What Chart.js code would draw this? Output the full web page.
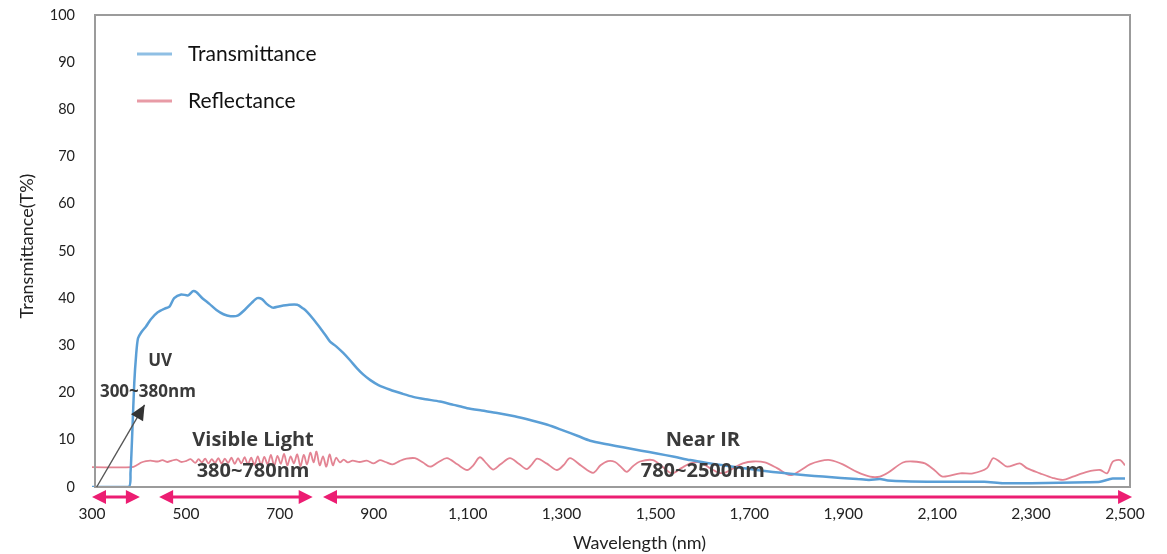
<!DOCTYPE html>
<html lang="en">
<head>
    <meta charset="UTF-8">
    <title>Transmittance / Reflectance</title>
    <script src="https://cdn.jsdelivr.net/npm/chart.js"></script>
    <style>
        body {
            margin: 0;
            background: #fff;
        }
        .chart-container {
            position: relative;
            width: 1167px;
            height: 554px;
        }
    </style>
</head>
<body>
    <div class="chart-container">
        <canvas id="specChart"></canvas>
    </div>

    <script>
        // Transmittance curve (wavelength nm, T%)
        const transWl = [300, 378, 382, 386, 390, 394, 398, 405, 415, 425, 440, 455, 465, 475, 490, 505, 515, 522, 535, 550, 565, 580, 595, 610, 625, 640, 652, 662, 672, 685, 700, 720, 737, 750, 758, 772, 786, 797, 807, 820, 835, 850, 864, 878, 892, 910, 935, 960, 984, 1010, 1041, 1070, 1099, 1130, 1163, 1200, 1233, 1270, 1303, 1335, 1361, 1400, 1431, 1470, 1503, 1540, 1574, 1610, 1644, 1680, 1716, 1750, 1787, 1820, 1857, 1895, 1929, 1955, 1978, 1995, 2030, 2100, 2200, 2240, 2300, 2361, 2420, 2447, 2465, 2474, 2500];
        const transVal = [0, 0, 3, 12, 22, 28, 31.5, 32.8, 34, 35.5, 37, 37.8, 38.2, 40, 40.8, 40.6, 41.5, 41.3, 40, 38.8, 37.5, 36.6, 36.2, 36.3, 37.5, 39, 40, 39.8, 38.8, 38, 38.3, 38.6, 38.6, 37.8, 37.1, 35.5, 33.7, 32.2, 30.8, 29.8, 28.4, 26.8, 25.2, 23.8, 22.7, 21.6, 20.6, 19.8, 19.1, 18.6, 18.1, 17.4, 16.7, 16.2, 15.7, 15.0, 14.2, 13.2, 12.0, 10.8, 9.8, 9.0, 8.4, 7.7, 7.1, 6.4, 5.7, 5.1, 4.6, 4.1, 3.6, 3.2, 2.8, 2.5, 2.2, 1.9, 1.7, 1.5, 1.7, 1.4, 1.2, 1.1, 1.1, 0.8, 0.8, 0.9, 1.0, 1.1, 1.6, 1.8, 1.8];

        // Reflectance curve (wavelength nm, %)
        const reflWl = [300, 385, 395, 405, 415, 425, 440, 450, 460, 470, 480, 490, 500, 510, 520, 527, 534, 541, 548, 555, 562, 569, 576, 583, 590, 597, 604, 611, 618, 625, 632, 639, 646, 653, 660, 667, 674, 681, 688, 695, 702, 709, 716, 723, 730, 737, 744, 751, 758, 765, 772, 778, 785, 792, 799, 806, 813, 820, 828, 836, 845, 855, 870, 885, 900, 913, 925, 940, 955, 970, 988, 1005, 1020, 1038, 1056, 1078, 1099, 1112, 1126, 1140, 1154, 1170, 1190, 1208, 1226, 1237, 1248, 1268, 1290, 1304, 1318, 1342, 1367, 1383, 1399, 1414, 1427, 1439, 1452, 1467, 1495, 1515, 1535, 1555, 1574, 1595, 1616, 1635, 1650, 1670, 1686, 1708, 1733, 1759, 1787, 1810, 1829, 1850, 1872, 1899, 1929, 1957, 1978, 1995, 2027, 2048, 2074, 2095, 2112, 2149, 2176, 2206, 2219, 2234, 2249, 2276, 2291, 2319, 2347, 2368, 2389, 2419, 2447, 2462, 2474, 2490, 2500];
        const reflVal = [4.2, 4.2, 4.6, 5.2, 5.5, 5.6, 5.4, 5.7, 5.3, 5.6, 5.8, 5.3, 5.5, 5.9, 5.1, 5.9, 5.2, 6.0, 5.0, 5.9, 5.1, 6.1, 5.0, 6.0, 5.1, 6.2, 4.9, 6.1, 5.0, 6.3, 4.8, 6.2, 4.7, 6.5, 4.6, 6.4, 4.8, 6.8, 4.5, 6.6, 4.9, 7.0, 4.6, 6.5, 5.0, 6.9, 4.4, 6.8, 4.8, 7.3, 5.2, 7.5, 4.6, 6.5, 4.3, 6.9, 4.6, 6.2, 5.2, 5.8, 5.2, 5.6, 5.3, 5.6, 5.0, 5.7, 5.3, 4.8, 5.5, 6.0, 6.1, 5.2, 4.3, 5.3, 6.1, 4.8, 3.6, 4.6, 6.3, 5.0, 3.7, 4.8, 6.1, 5.0, 3.8, 4.8, 6.0, 5.0, 3.6, 4.6, 6.1, 4.5, 3.0, 4.6, 5.5, 5.3, 4.2, 3.2, 4.4, 5.4, 5.7, 4.3, 2.9, 4.0, 5.0, 5.2, 4.0, 3.0, 3.1, 4.2, 5.0, 5.4, 5.2, 4.0, 2.5, 3.6, 4.8, 5.5, 5.7, 4.8, 3.2, 2.2, 2.2, 3.0, 5.2, 5.4, 5.0, 3.5, 2.2, 2.9, 2.9, 4.0, 6.1, 5.3, 4.3, 5.0, 4.0, 2.9, 1.9, 1.5, 2.2, 3.2, 3.6, 2.9, 5.4, 5.7, 4.6];

        // Spectral bands: label, range text, label anchor (nm, %)
        const bandNames = ['UV', 'Visible Light', 'Near IR'];
        const bandRanges = ['300~380nm', '380~780nm', '780~2500nm'];
        const bandLabelX = [445, 643, 1601];
        const bandNameY = [26.7, 10, 10];
        const bandRangeX = [419, 643, 1601];
        const bandRangeY = [20.1, 3.4, 3.4];
        // Pink double-headed arrows under the axis (nm)
        const arrowFrom = [300, 443, 792];
        const arrowTo = [402, 770, 2515];
        // Pointer from origin towards the UV label (nm, %)
        const pointerFrom = [310, 0];
        const pointerTo = [412, 17.4];

        const xTicks = [300, 500, 700, 900, 1100, 1300, 1500, 1700, 1900, 2100, 2300, 2500];
        const xTitle = 'Wavelength (nm)';
        const yTitle = 'Transmittance(T%)';

        const toPoints = (xs, ys) => xs.map((x, i) => ({ x: x, y: ys[i] }));

        function arrowHead(ctx, x, y, dir, len, half) {
            ctx.beginPath();
            ctx.moveTo(x, y);
            ctx.lineTo(x - dir * len, y - half);
            ctx.lineTo(x - dir * len, y + half);
            ctx.closePath();
            ctx.fill();
        }

        const decorPlugin = {
            id: 'decor',
            afterDatasetsDraw(chart) {
                const ctx = chart.ctx;
                const xs = chart.scales.x;
                const ys = chart.scales.y;
                const area = chart.chartArea;

                ctx.save();
                // plot frame
                ctx.strokeStyle = '#9b9b9b';
                ctx.lineWidth = 2;
                ctx.strokeRect(area.left + 3, area.top, area.right - area.left + 2, area.bottom - area.top);

                // pointer arrow
                const px1 = xs.getPixelForValue(pointerFrom[0]);
                const py1 = ys.getPixelForValue(pointerFrom[1]);
                const px2 = xs.getPixelForValue(pointerTo[0]);
                const py2 = ys.getPixelForValue(pointerTo[1]);
                ctx.strokeStyle = '#555';
                ctx.fillStyle = '#333';
                ctx.lineWidth = 1.4;
                ctx.beginPath();
                ctx.moveTo(px1, py1);
                ctx.lineTo(px2, py2);
                ctx.stroke();
                const ang = Math.atan2(py2 - py1, px2 - px1);
                ctx.save();
                ctx.translate(px2, py2);
                ctx.rotate(ang);
                arrowHead(ctx, 0, 0, 1, 15, 7);
                ctx.restore();

                // band labels
                ctx.fillStyle = '#3a3a3a';
                ctx.textAlign = 'center';
                ctx.textBaseline = 'middle';
                bandNames.forEach((name, i) => {
                    ctx.font = 'bold ' + (i === 0 ? 17 : 20) + 'px "Open Sans", sans-serif';
                    ctx.fillText(name, xs.getPixelForValue(bandLabelX[i]), ys.getPixelForValue(bandNameY[i]));
                    ctx.fillText(bandRanges[i], xs.getPixelForValue(bandRangeX[i]), ys.getPixelForValue(bandRangeY[i]));
                });

                // pink range arrows
                const ay = area.bottom + 10;
                ctx.strokeStyle = '#ec1d72';
                ctx.fillStyle = '#ec1d72';
                ctx.lineWidth = 3;
                arrowFrom.forEach((from, i) => {
                    const a = xs.getPixelForValue(from);
                    const b = xs.getPixelForValue(arrowTo[i]);
                    ctx.beginPath();
                    ctx.moveTo(a + 8, ay);
                    ctx.lineTo(b - 8, ay);
                    ctx.stroke();
                    arrowHead(ctx, a, ay, -1, 14, 7);
                    arrowHead(ctx, b, ay, 1, 14, 7);
                });

                // legend
                ctx.font = '21px Lato, sans-serif';
                ctx.textAlign = 'left';
                ctx.lineWidth = 3;
                const swatch = ['#8fbfe4', '#e89ba6'];
                chart.data.datasets.forEach((ds, i) => {
                    const ly = area.top + 39 + i * 47;
                    ctx.strokeStyle = swatch[i];
                    ctx.beginPath();
                    ctx.moveTo(area.left + 45, ly);
                    ctx.lineTo(area.left + 80, ly);
                    ctx.stroke();
                    ctx.fillStyle = '#111';
                    ctx.fillText(ds.label, area.left + 96, ly);
                });

                // axis titles
                ctx.fillStyle = '#222';
                ctx.font = '18px Lato, sans-serif';
                ctx.textAlign = 'center';
                ctx.fillText(xTitle, (area.left + area.right) / 2 + 31, 543);
                ctx.save();
                ctx.translate(27, (area.top + area.bottom) / 2 - 5);
                ctx.rotate(-Math.PI / 2);
                ctx.fillText(yTitle, 0, 0);
                ctx.restore();
                ctx.restore();
            }
        };

        const ctx = document.getElementById('specChart').getContext('2d');
        new Chart(ctx, {
            type: 'line',
            data: {
                datasets: [{
                    label: 'Transmittance',
                    data: toPoints(transWl, transVal),
                    borderColor: '#5b9fd6',
                    borderWidth: 2.5,
                    pointRadius: 0,
                    tension: 0.25
                }, {
                    label: 'Reflectance',
                    data: toPoints(reflWl, reflVal),
                    borderColor: 'rgba(222, 110, 128, 0.85)',
                    borderWidth: 1.8,
                    pointRadius: 0,
                    tension: 0.3
                }]
            },
            options: {
                responsive: true,
                maintainAspectRatio: false,
                animation: false,
                layout: {
                    padding: { left: 8, right: 42, top: 15, bottom: 0 }
                },
                plugins: {
                    legend: { display: false },
                    tooltip: { enabled: false }
                },
                scales: {
                    x: {
                        type: 'linear',
                        min: 300,
                        max: 2500,
                        afterBuildTicks: (s) => { s.ticks = xTicks.map(v => ({ value: v })); },
                        afterFit: (s) => { s.height = 67; },
                        grid: { display: false, drawTicks: false },
                        border: { display: false },
                        ticks: {
                            color: '#222',
                            font: { family: 'Lato', size: 15.5 },
                            padding: 18,
                            maxRotation: 0,
                            callback: (v) => v.toLocaleString('en-US')
                        }
                    },
                    y: {
                        min: 0,
                        max: 100,
                        afterFit: (s) => { s.width = 84; s.paddingTop = 0; s.paddingBottom = 0; },
                        grid: { display: false, drawTicks: false },
                        border: { display: false },
                        ticks: {
                            stepSize: 10,
                            color: '#222',
                            font: { family: 'Lato', size: 14.5 },
                            padding: 17
                        }
                    }
                }
            },
            plugins: [decorPlugin]
        });
    </script>
</body>
</html>
